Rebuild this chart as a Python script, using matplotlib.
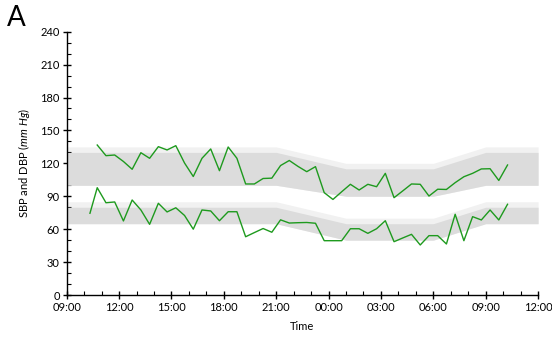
import matplotlib
matplotlib.use("Agg")
import matplotlib.pyplot as plt
import matplotlib.dates as mdates
import pandas as pd

# ambulatory readings (clock time, mmHg)
sbp_times = ["10:45", "11:15", "11:45", "12:15", "12:45", "13:15", "13:45", "14:15",
             "14:45", "15:15", "15:45", "16:15", "16:45", "17:15", "17:45", "18:15",
             "18:45", "19:15", "19:45", "20:15", "20:45", "21:15", "21:45", "22:15",
             "22:45", "23:15", "23:45", "00:15", "00:45", "01:15", "01:45", "02:15",
             "02:45", "03:15", "03:45", "04:15", "04:45", "05:15", "05:45", "06:15",
             "06:45", "07:15", "07:45", "08:15", "08:45", "09:15", "09:45", "10:15"]
sbp = [136.7, 127.0, 127.6, 121.7, 114.6, 129.7, 124.6, 135.2,
       132.2, 136.1, 120.3, 108.0, 124.6, 133.1, 113.3, 134.9,
       124.6, 101.2, 101.2, 106.2, 106.5, 118.0, 122.6, 117.2,
       112.4, 117.0, 93.3, 87.1, 94.1, 100.9, 95.7, 100.9,
       98.7, 110.9, 88.7, 94.9, 101.2, 100.9, 90.2, 96.4,
       96.2, 102.4, 107.8, 110.9, 114.9, 115.1, 104.4, 118.5]

dbp_times = ["10:20"] + sbp_times
dbp = [74.5, 97.8, 84.1, 84.8, 67.5, 86.6, 77.5, 64.4, 83.6,
       75.7, 79.5, 72.5, 60.0, 77.5, 76.6, 67.7, 75.9,
       75.9, 53.1, 56.9, 60.6, 57.2, 68.5, 65.6, 65.9,
       66.1, 65.4, 49.5, 49.5, 49.5, 60.4, 60.4, 56.2,
       60.4, 67.7, 48.6, 52.0, 55.3, 45.6, 54.1, 54.1,
       46.5, 73.6, 49.5, 71.4, 68.4, 77.5, 68.4, 82.7]

# reference ranges: day / night limits and the switch-over times
band_times = ["09:00", "21:00", "01:00", "06:00", "09:00", "12:00"]
sbp_low = [100, 100, 90, 90, 100, 100]
sbp_high = [130, 130, 115, 115, 130, 130]
sbp_margin = [135, 135, 120, 120, 135, 135]
dbp_low = [65, 65, 50, 50, 65, 65]
dbp_high = [80, 80, 65, 65, 80, 80]
dbp_margin = [85, 85, 70, 70, 85, 85]

x_ticks_start, x_ticks_end = "09:00", "12:00"


def to_datetimes(times, start="2000-01-01"):
    """Turn a chronological list of HH:MM strings into datetimes, rolling over midnight."""
    out = []
    day = pd.Timestamp(start)
    prev = None
    for t in times:
        ts = pd.Timestamp(f"{day.date()} {t}")
        if prev is not None and ts < prev:
            day = day + pd.Timedelta(days=1)
            ts = pd.Timestamp(f"{day.date()} {t}")
        out.append(ts)
        prev = ts
    return out


t_sbp = to_datetimes(sbp_times)
t_dbp = to_datetimes(dbp_times)
t_band = to_datetimes(band_times)

plt.rcParams["font.family"] = ["Lato", "DejaVu Sans"]
plt.rcParams["mathtext.fontset"] = "custom"
plt.rcParams["mathtext.it"] = "Lato:italic"
plt.rcParams["mathtext.rm"] = "Lato"

fig = plt.figure(figsize=(5.52, 3.37), dpi=100)
ax = fig.add_axes([0.1208, 0.1246, 0.854, 0.7814])

light, dark = "#f1f1f1", "#dcdcdc"
ax.fill_between(t_band, sbp_low, sbp_margin, color=light, lw=0, zorder=1)
ax.fill_between(t_band, sbp_low, sbp_high, color=dark, lw=0, zorder=2)
ax.fill_between(t_band, dbp_low, dbp_margin, color=light, lw=0, zorder=1)
ax.fill_between(t_band, dbp_low, dbp_high, color=dark, lw=0, zorder=2)

green = "#1e9a1e"
ax.plot(t_sbp, sbp, color=green, lw=1.0, zorder=3)
ax.plot(t_dbp, dbp, color=green, lw=1.0, zorder=3)

ax.set_ylim(0, 240)
ax.set_yticks(range(0, 241, 30))
ax.set_yticks(range(0, 241, 10), minor=True)
ax.set_xlim(to_datetimes([x_ticks_start, "23:59", x_ticks_end])[0],
            to_datetimes([x_ticks_start, "23:59", x_ticks_end])[2])
ax.xaxis.set_major_locator(mdates.HourLocator(interval=3))
ax.xaxis.set_minor_locator(mdates.HourLocator(interval=1))
ax.xaxis.set_major_formatter(mdates.DateFormatter("%H:%M"))

for s in ("top", "right"):
    ax.spines[s].set_visible(False)
for s in ("left", "bottom"):
    ax.spines[s].set_linewidth(1.0)
    ax.spines[s].set_color("black")

ax.tick_params(which="major", direction="inout", length=6, width=1, labelsize=8,
               colors="black", pad=2)
ax.tick_params(which="minor", direction="in", length=3, width=0.8)

ax.set_xlabel("Time", fontsize=8, labelpad=6)
ax.set_ylabel(r"SBP and DBP $(mm\ Hg)$", fontsize=8, labelpad=6)

fig.text(0.012, 0.985, "A", fontsize=20, va="top", ha="left")

fig.savefig("out.png", dpi=100)
